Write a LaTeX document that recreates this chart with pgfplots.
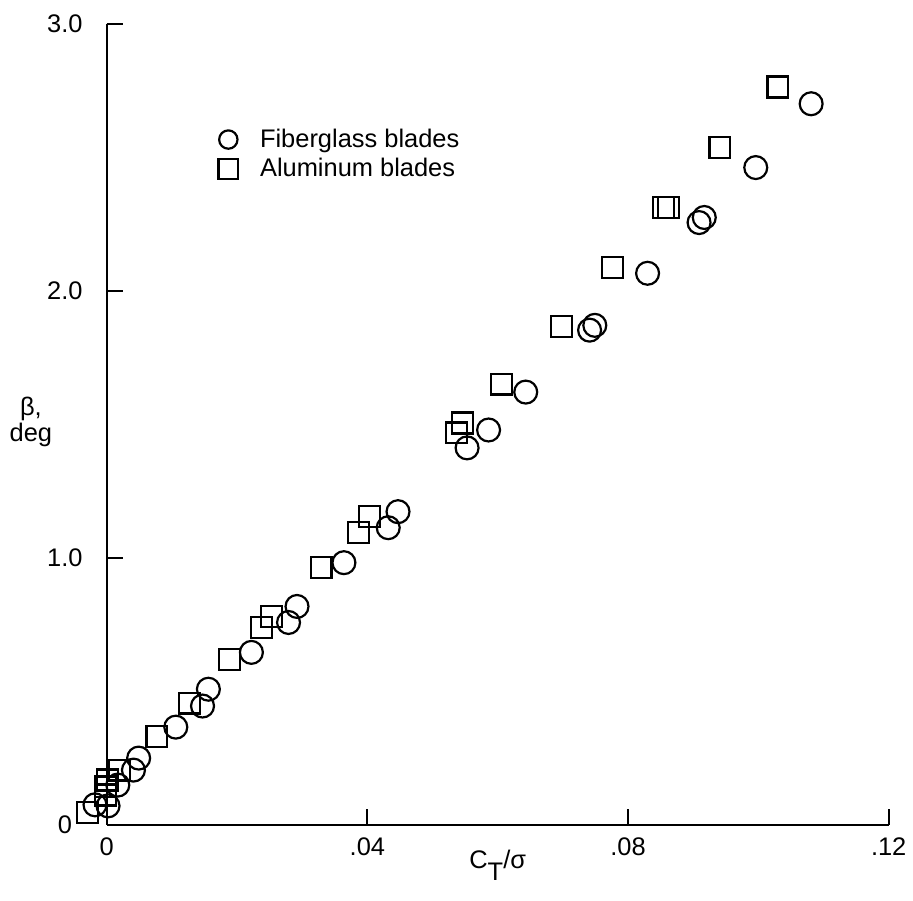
\documentclass[border=0pt]{standalone}
\usepackage{fontspec}
\setmainfont{Liberation Sans}
\usepackage{pgfplots}
\pgfplotsset{compat=1.18}

% smaller marks in the legend than in the plot
\pgfplotsset{
    circlegend/.style={legend image code/.code={\draw[##1, mark size=4.6pt] plot coordinates {(0.3cm,0cm)};}},
    sqlegend/.style={legend image code/.code={\draw[##1, mark size=4.9pt] plot coordinates {(0.3cm,0cm)};}},
}

% blade flapping data
\pgfplotstableread{
x y
-0.0018 0.075
0.0002 0.071
0.0017 0.149
0.0041 0.205
0.0049 0.250
0.0106 0.366
0.0147 0.445
0.0156 0.508
0.0222 0.646
0.0279 0.758
0.0292 0.818
0.0364 0.982
0.0432 1.113
0.0447 1.173
0.0553 1.412
0.0586 1.479
0.0643 1.621
0.0741 1.853
0.0749 1.871
0.0830 2.066
0.0909 2.256
0.0917 2.275
0.0996 2.462
0.1081 2.701
}\fiberglass

\pgfplotstableread{
x y
-0.0029 0.045
-0.0002 0.112
-0.0002 0.142
0.0001 0.168
0.0020 0.205
0.0077 0.332
0.0127 0.456
0.0188 0.620
0.0237 0.740
0.0253 0.781
0.0329 0.964
0.0386 1.094
0.0403 1.154
0.0537 1.468
0.0546 1.505
0.0606 1.651
0.0698 1.868
0.0776 2.088
0.0854 2.312
0.0862 2.312
0.0941 2.536
0.1030 2.764
}\aluminum

\begin{document}
\begin{tikzpicture}
\begin{axis}[
    scale only axis,
    width=392pt,
    height=401.5pt,
    xmin=0, xmax=0.12,
    ymin=0, ymax=3,
    clip=false,
    axis lines=left,
    axis line style={-, line width=1pt},
    tick align=inside,
    major tick length=8pt,
    tick style={line width=1pt, black},
    xtick={0,0.04,0.08,0.12},
    xticklabels={0,.04,.08,.12},
    ytick={0,1,2,3},
    yticklabels={0,1.0,2.0,3.0},
    /pgf/number format/assume math mode=true,
    every tick label/.append style={font=\fontsize{12.75}{14}\selectfont},
    xticklabel style={anchor=center, yshift=-11pt},
    yticklabel style={anchor=center, xshift=-21pt},
    xlabel={C\raisebox{-0.45em}{T}/σ},
    xlabel style={font=\fontsize{12.75}{14}\selectfont, at={(rel axis cs:0.5,-0.055)}, anchor=base},
    ylabel={β,\\deg},
    ylabel style={font=\fontsize{12.75}{13}\selectfont, rotate=-90, align=center,
        at={(rel axis cs:-0.097,0.503)}, anchor=center},
    legend style={draw=none, fill=none, at={(rel axis cs:0.143,0.874)}, anchor=north west,
        inner sep=0pt, outer sep=0pt, font=\fontsize{12.75}{14}\selectfont,
        nodes={inner sep=2pt}, column sep=9pt},
    legend cell align=left,
]
\addplot[only marks, mark=o, mark size=5.75pt, line width=1.1pt, black, circlegend]
    table {\fiberglass};
\addlegendentry{Fiberglass blades}
\addplot[only marks, mark=square, mark size=5.25pt, line width=1.1pt, black, sqlegend]
    table {\aluminum};
\addlegendentry{Aluminum blades}
\coordinate (bbl) at (rel axis cs:-0.1365,-0.0946);
\coordinate (btr) at (rel axis cs:1.0281,1.0299);
\end{axis}
\useasboundingbox (bbl) rectangle (btr);
\end{tikzpicture}
\end{document}
